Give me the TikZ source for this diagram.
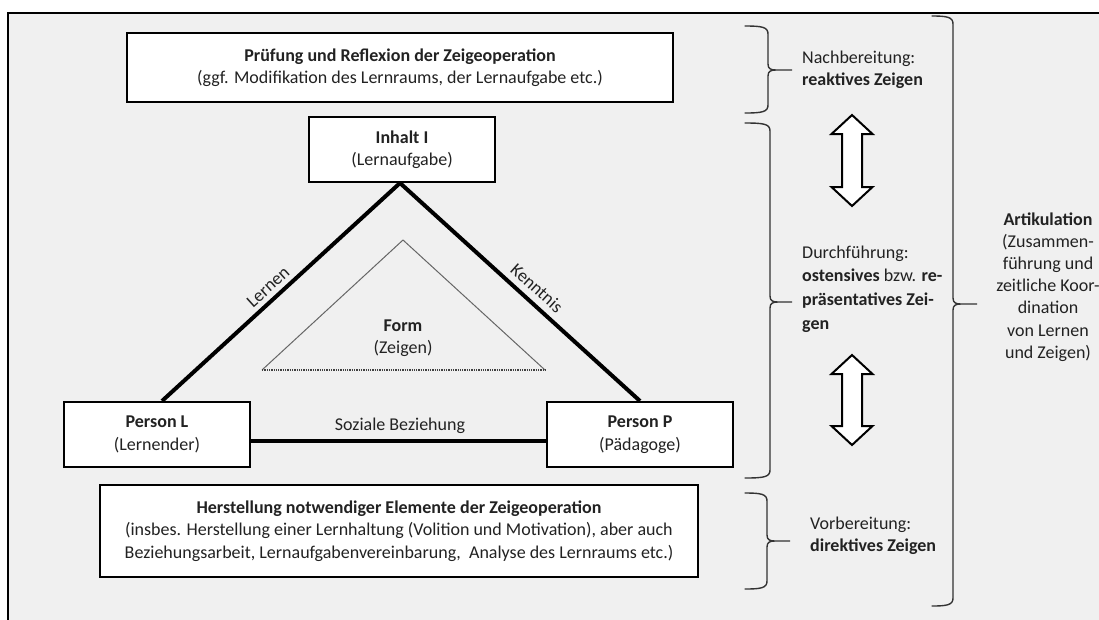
\documentclass[tikz,border=0pt]{standalone}
\usepackage{fontspec}
\setmainfont{Carlito}
\definecolor{bgc}{HTML}{F0F0F0}
\definecolor{txt}{HTML}{222222}
\definecolor{brc}{HTML}{333333}
\newcommand{\mybrc}[6]{% L V T y1 ym y2
  \draw[bracestyle] (#1,#4) .. controls ({#2-6},{#4}) and (#2,{#4+1}) .. (#2,{#4+8})
    -- (#2,{#5-6}) .. controls (#2,{#5-1}) and ({#2+3},#5) .. ({#2+8},#5) -- (#3,#5)
    -- ({#2+8},#5) .. controls ({#2+3},#5) and (#2,{#5+1}) .. (#2,{#5+6})
    -- (#2,{#6-8}) .. controls (#2,{#6-1}) and ({#2-6},#6) .. (#1,#6);}
\tikzset{
  box/.style={draw=black, line width=2pt, fill=white, align=center, inner sep=0pt},
  tri/.style={line width=4pt, black},
  innertri/.style={line width=1pt, black!60},
  bracestyle/.style={line width=1.4pt, brc, line cap=round},
  bigarrow/.style={draw=black, fill=white, line width=2pt, line join=miter},
  lbl/.style={inner sep=0pt, text=txt},
}
\begin{document}
\begin{tikzpicture}[x=1pt, y=-1pt, font=\fontsize{18pt}{22.5pt}\selectfont, text=txt]
\useasboundingbox (0,0) rectangle (1099,619);
\fill[white] (0,0) rectangle (1099,619);
\fill[bgc] (8,13) rectangle (1120,640);
\draw[line width=1.8pt, black] (8,640) -- (8,13) -- (1120,13);

% boxes
\node[box, minimum width=546pt, minimum height=69pt] (R) at (400,67.5)
  {\textbf{Prüfung und Reflexion der Zeigeoperation}\\(ggf. Modifikation des Lernraums, der Lernaufgabe etc.)};
\node[box, minimum width=186pt, minimum height=65pt] (I) at (402,149.5)
  {\textbf{Inhalt I}\\(Lernaufgabe)};
\node[box, minimum width=186pt, minimum height=65pt] (L) at (157,434.5)
  {\textbf{Person L}\\(Lernender)};
\node[box, minimum width=186pt, minimum height=65pt] (P) at (640,434.5)
  {\textbf{Person P}\\(Pädagoge)};
\node[box, minimum width=598pt, minimum height=92pt] (H) at (399,531)
  {\textbf{Herstellung notwendiger Elemente der Zeigeoperation}\\(insbes. Herstellung einer Lernhaltung (Volition und Motivation), aber auch\\Beziehungsarbeit, Lernaufgabenvereinbarung,\ \ Analyse des Lernraums etc.)};

% triangle
\draw[tri] ([xshift=-2pt]I.south) -- ([xshift=5pt]L.north);
\draw[tri] ([xshift=-2pt]I.south) -- (P.north);
\draw[tri] ([yshift=-6.5pt]L.east) -- ([yshift=-6.5pt]P.west);
\node[lbl, rotate=42] (lern) at (268,287) {Lernen};
\node[lbl, rotate=-42] (kenn) at (537,288) {Kenntnis};
\node[lbl] (soz) at (400,426) {Soziale Beziehung};

% inner triangle
\coordinate (fa) at (403,240);
\coordinate (fl) at (262,370);
\coordinate (fr) at (545,370);
\draw[innertri] (fl) -- (fa) -- (fr);
\draw[line width=1.3pt, black!75, densely dotted] (fl) -- (fr);
\node[lbl, align=center] (form) at (403,338) {\textbf{Form}\\(Zeigen)};

% braces
\mybrc{745}{768}{792}{26}{70}{113}
\mybrc{745}{770}{792}{123}{302}{478}
\mybrc{745}{767}{790}{493}{541}{589}
\mybrc{932}{953}{977}{16}{304}{606}

% phase texts
\node[lbl, anchor=west, align=left] (nach) at (802,70)
  {Nachbereitung:\\\textbf{reaktives Zeigen}};
\node[lbl, anchor=west, align=left, font=\fontsize{18pt}{23.7pt}\selectfont] (durch) at (802,289)
  {Durchführung:\\\textbf{ostensives} bzw. \textbf{re-}\\\textbf{präsentatives Zei-}\\\textbf{gen}};
\node[lbl, anchor=west, align=left] (vor) at (810,536)
  {Vorbereitung:\\\textbf{direktives Zeigen}};
\node[lbl, align=center, font=\fontsize{18pt}{22.2pt}\selectfont] (art) at (1048,287)
  {\textbf{Artikulation}\\(Zusammen-\\führung und\\zeitliche Koor-\\dination\\von Lernen\\und Zeigen)};

% double arrows
\draw[bigarrow] (852,115) -- ++(20.5,19) -- ++(-10.5,0) -- ++(0,53) -- ++(10.5,0)
  -- ++(-20.5,19) -- ++(-20.5,-19) -- ++(10.5,0) -- ++(0,-53) -- ++(-10.5,0) -- cycle;
\draw[bigarrow] (852,355) -- ++(20.5,19) -- ++(-10.5,0) -- ++(0,52) -- ++(10.5,0)
  -- ++(-20.5,19) -- ++(-20.5,-19) -- ++(10.5,0) -- ++(0,-52) -- ++(-10.5,0) -- cycle;
\end{tikzpicture}
\end{document}
